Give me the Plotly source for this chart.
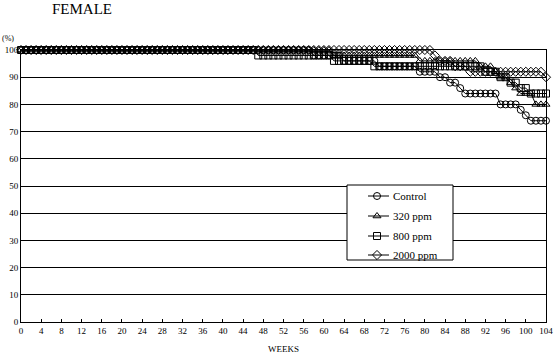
import plotly.graph_objects as go

weeks = list(range(0, 105))
x_tick_labels = [0, 4, 8, 12, 16, 20, 24, 28, 32, 36, 40, 44, 48, 52, 56, 60, 64, 68, 72, 76, 80, 84, 88, 92, 96, 100, 104]
y_tick_labels = [0, 10, 20, 30, 40, 50, 60, 70, 80, 90, 100]

control = ([100] * 58 + [98] * 6 + [96] * 7 + [94] * 8 + [92] * 4 + [90] * 2 + [88] * 2 + [86]
           + [84] * 7 + [80] * 4 + [78] + [76] + [74] * 4)
ppm320 = ([100] * 62 + [98] * 17 + [96] * 12 + [94] * 3 + [92] + [90] * 2 + [88] + [86]
          + [84] * 3 + [80] * 3)
ppm800 = ([100] * 47 + [98] * 15 + [96] * 8 + [94] * 22 + [92] * 3 + [90] * 2 + [88] * 2
          + [86] * 2 + [84] * 4)
ppm2000 = ([100] * 82 + [98] + [96] * 3 + [94] * 3 + [92] * 15 + [90])

series_names = ["Control", "320 ppm", "800 ppm", "2000 ppm"]
series_values = [control, ppm320, ppm800, ppm2000]
symbols = ["circle-open", "triangle-up-open", "square-open", "diamond-open"]

FONT = "Liberation Serif"
W, H = 558, 356
L, R, T, B = 21, 546, 50, 322          # plot area in pixels

# custom legend layout (pixel coordinates of the page)
LEG_BOX = (347, 453, 185, 260)
LEG_ROWS = [196, 216, 236, 255]
LEG_LINE = (368, 389)
LEG_MARK = 377
LEG_TEXT = 391

fig = go.Figure()
for name, vals, sym in zip(series_names, series_values, symbols):
    fig.add_trace(go.Scatter(
        x=weeks, y=vals, name=name, mode="lines+markers",
        line=dict(color="black", width=1),
        marker=dict(symbol=sym, size=7, color="black", line=dict(color="black", width=1)),
        cliponaxis=False, showlegend=False,
    ))

# legend box as a filled outline on a pixel-coordinate overlay axis
bx0, bx1, by0, by1 = LEG_BOX
fig.add_trace(go.Scatter(
    x=[bx0, bx1, bx1, bx0, bx0], y=[by0, by0, by1, by1, by0], mode="lines",
    fill="toself", fillcolor="white", line=dict(color="black", width=1),
    xaxis="x2", yaxis="y2", showlegend=False, hoverinfo="skip",
))
for name, sym, ry in zip(series_names, symbols, LEG_ROWS):
    fig.add_trace(go.Scatter(
        x=list(LEG_LINE), y=[ry, ry], mode="lines", xaxis="x2", yaxis="y2",
        line=dict(color="black", width=1), showlegend=False, hoverinfo="skip",
    ))
    fig.add_trace(go.Scatter(
        x=[LEG_MARK], y=[ry], mode="markers", xaxis="x2", yaxis="y2",
        marker=dict(symbol=sym, size=7, color="black", line=dict(color="black", width=1)),
        showlegend=False, hoverinfo="skip",
    ))
    fig.add_annotation(x=LEG_TEXT, y=ry, xref="x2", yref="y2", text=name, showarrow=False,
                       xanchor="left", yanchor="middle", font=dict(family=FONT, size=11))

fig.update_layout(
    width=W, height=H,
    margin=dict(l=L, r=W - R, t=T, b=H - B, autoexpand=False),
    paper_bgcolor="white", plot_bgcolor="white",
    font=dict(family=FONT, size=10, color="black"),
    showlegend=False,
    xaxis=dict(
        range=[0, 104], tickvals=x_tick_labels, ticktext=[str(v) for v in x_tick_labels],
        showgrid=False, zeroline=False, showline=True, linecolor="black", linewidth=1,
        mirror=True, ticks="inside", ticklen=3, tickcolor="black", automargin=False,
        tickfont=dict(family=FONT, size=9),
    ),
    yaxis=dict(
        range=[0, 100], tickvals=y_tick_labels, ticktext=[str(v) for v in y_tick_labels],
        showgrid=True, gridcolor="black", gridwidth=1, zeroline=False, automargin=False,
        showline=True, linecolor="black", linewidth=1, mirror=True, ticks="",
        tickfont=dict(family=FONT, size=9),
    ),
    xaxis2=dict(overlaying="x", range=[L, R], visible=False, fixedrange=True),
    yaxis2=dict(overlaying="y", range=[B, T], visible=False, fixedrange=True),
)

fig.add_annotation(text="FEMALE", xref="paper", yref="paper", x=(82 - L) / (R - L),
                   y=(B - 9) / (B - T), showarrow=False, font=dict(family=FONT, size=15),
                   xanchor="center", yanchor="middle")
fig.add_annotation(text="(%)", xref="paper", yref="paper", x=(8 - L) / (R - L),
                   y=(B - 39) / (B - T), showarrow=False, font=dict(family=FONT, size=8),
                   xanchor="center", yanchor="middle")
fig.add_annotation(text="WEEKS", xref="paper", yref="paper", x=0.5,
                   y=(B - 349) / (B - T), showarrow=False, font=dict(family=FONT, size=9),
                   xanchor="center", yanchor="middle")

fig.write_html("out.html", post_script="document.body.style.margin='0';",
               config={"displayModeBar": False})
